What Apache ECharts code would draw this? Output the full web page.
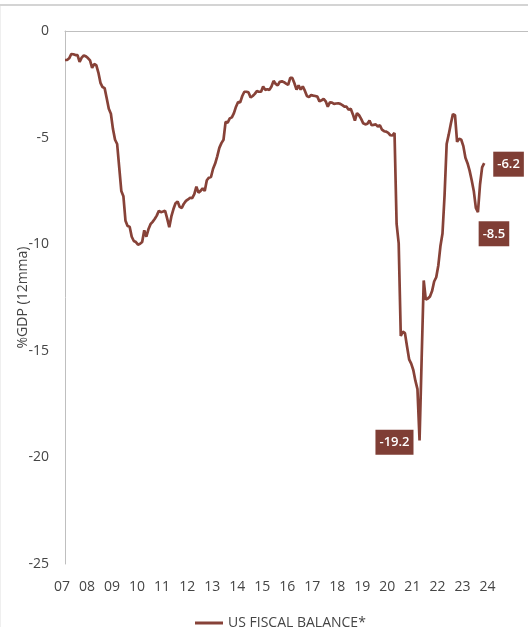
<!DOCTYPE html>
<html>
<head>
<meta charset="utf-8">
<script src="https://cdn.jsdelivr.net/npm/echarts@6/dist/echarts.min.js"></script>
<style>
html,body{margin:0;padding:0;background:#fff;}
#chart{width:528px;height:627px;}
</style>
</head>
<body>
<div id="chart"></div>
<script>
// Monthly data, Jan 2007 .. Oct 2023 (US fiscal balance, % of GDP, 12mma)
const startYear = 2007;
const axisEnd = '2025-07';           // axis runs a little past the last label
const lastLabelYear = 2024;
const seriesName = 'US FISCAL BALANCE*';
const yTicks = [0, -5, -10, -15, -20, -25];
const fiscalBalance = [
-1.36,-1.36,-1.28,-1.08,-1.09,-1.13,-1.13,-1.45,-1.25,-1.15,-1.19,-1.27,
-1.38,-1.73,-1.55,-1.6,-1.95,-2.43,-2.63,-2.68,-3.15,-3.65,-3.88,-4.6,
-5.1,-5.3,-6.4,-7.5,-7.75,-8.9,-9.15,-9.18,-9.65,-9.85,-9.9,-10.02,
-9.98,-9.9,-9.35,-9.65,-9.3,-9.06,-8.95,-8.82,-8.66,-8.43,-8.5,-8.47,
-8.43,-8.8,-9.2,-8.7,-8.35,-8.08,-8.0,-8.25,-8.3,-8.1,-7.97,-7.9,
-7.82,-7.84,-7.65,-7.3,-7.58,-7.5,-7.38,-7.5,-7.0,-6.88,-6.85,-6.46,
-6.22,-5.88,-5.48,-5.26,-5.1,-4.26,-4.3,-4.1,-4.05,-3.85,-3.55,-3.33,
-3.35,-3.05,-2.85,-2.85,-2.88,-3.12,-3.05,-2.95,-2.82,-2.85,-2.85,-2.6,
-2.76,-2.73,-2.76,-2.6,-2.34,-2.48,-2.55,-2.38,-2.36,-2.4,-2.47,-2.53,
-2.2,-2.2,-2.45,-2.75,-2.55,-2.75,-2.6,-2.8,-3.05,-3.1,-3.0,-3.03,
-3.05,-3.08,-3.3,-3.25,-3.18,-3.3,-3.55,-3.35,-3.36,-3.42,-3.4,-3.39,
-3.42,-3.48,-3.55,-3.55,-3.7,-3.65,-3.9,-4.2,-3.85,-3.95,-4.12,-4.33,
-4.38,-4.35,-4.2,-4.42,-4.4,-4.38,-4.48,-4.42,-4.63,-4.7,-4.72,-4.78,
-4.89,-4.9,-4.78,-9.05,-9.96,-14.3,-14.1,-14.17,-14.8,-15.4,-15.6,-15.9,
-16.4,-16.8,-19.2,-15.4,-11.7,-12.6,-12.55,-12.45,-12.2,-11.75,-11.55,-11.0,
-10.1,-9.5,-7.7,-5.3,-4.85,-4.35,-3.9,-3.95,-5.2,-5.05,-5.1,-5.4,
-5.95,-6.2,-6.55,-7.0,-7.5,-8.3,-8.5,-7.2,-6.4,-6.2
];
// annotated points: index into fiscalBalance and label placement
const annotations = [
  {index: 170, position: 'left', distance: 6, offset: [0, 2]},
  {index: 198, position: 'bottom', distance: 9, offset: [16, 0]},
  {index: 201, position: 'right', distance: 9, offset: [0, 1]}
];

// month categories
const months = [];
(function(){
  let y = startYear, m = 1;
  while (true) {
    const s = y + '-' + String(m).padStart(2, '0');
    months.push(s);
    if (s === axisEnd) break;
    m++; if (m > 12) { m = 1; y++; }
  }
})();

const brown = '#874238';
const boxBrown = '#7F3E35';
const textGrey = '#454545';
const axisGrey = '#BFBFBF';

const annData = annotations.map(a => ({
  value: [months[a.index], fiscalBalance[a.index]],
  label: {
    show: true,
    position: a.position,
    distance: a.distance,
    offset: a.offset,
    formatter: fiscalBalance[a.index].toFixed(1),
    backgroundColor: boxBrown,
    color: '#ffffff',
    fontFamily: 'Open Sans',
    fontWeight: 600,
    fontSize: 13,
    lineHeight: 18,
    padding: [4, 4, 3, 4]
  }
}));

const chart = echarts.init(document.getElementById('chart'), null, {renderer: 'canvas'});
chart.setOption({
  animation: false,
  backgroundColor: '#ffffff',
  textStyle: {fontFamily: 'Open Sans'},
  graphic: [
    {type: 'rect', shape: {x: 0, y: 4, width: 528, height: 2}, style: {fill: '#D4D4D4'}, silent: true},
    {type: 'rect', shape: {x: 0, y: 6, width: 1, height: 621}, style: {fill: '#EFEFEF'}, silent: true}
  ],
  grid: {left: 65, top: 31, width: 465, bottom: 63, containLabel: false},
  legend: {
    data: [seriesName],
    left: 190,
    top: 611,
    icon: 'rect',
    itemWidth: 28,
    itemHeight: 3,
    itemGap: 5,
    textStyle: {color: textGrey, fontSize: 14, fontFamily: 'Open Sans'}
  },
  xAxis: {
    type: 'category',
    data: months,
    boundaryGap: false,
    axisLine: {lineStyle: {color: axisGrey, width: 1}},
    axisTick: {show: false},
    splitLine: {show: false},
    axisLabel: {
      interval: function (i, v) { return v.slice(5) === '01' && (+v.slice(0, 4)) <= lastLabelYear; },
      formatter: function (v) { return v.slice(2, 4); },
      color: textGrey,
      fontSize: 14,
      margin: 16,
      padding: [0, 6, 0, 0]
    }
  },
  yAxis: {
    type: 'value',
    min: yTicks[yTicks.length - 1],
    max: yTicks[0],
    interval: 5,
    name: '%GDP (12mma)',
    nameLocation: 'middle',
    nameRotate: 90,
    nameGap: 35,
    nameMoveOverlap: false,
    nameTextStyle: {color: textGrey, fontSize: 14, fontFamily: 'Open Sans'},
    axisLine: {show: true, lineStyle: {color: axisGrey, width: 1}},
    axisTick: {show: false},
    splitLine: {show: false},
    axisLabel: {color: textGrey, fontSize: 14, margin: 16}
  },
  series: [
    {
      name: seriesName,
      type: 'line',
      data: fiscalBalance,
      symbol: 'none',
      smooth: false,
      lineStyle: {color: brown, width: 2.7},
      itemStyle: {color: brown},
      z: 2
    },
    {
      type: 'scatter',
      data: annData,
      symbolSize: 0.1,
      itemStyle: {color: 'rgba(0,0,0,0)', opacity: 1},
      silent: true,
      z: 3
    }
  ]
});
</script>
</body>
</html>
